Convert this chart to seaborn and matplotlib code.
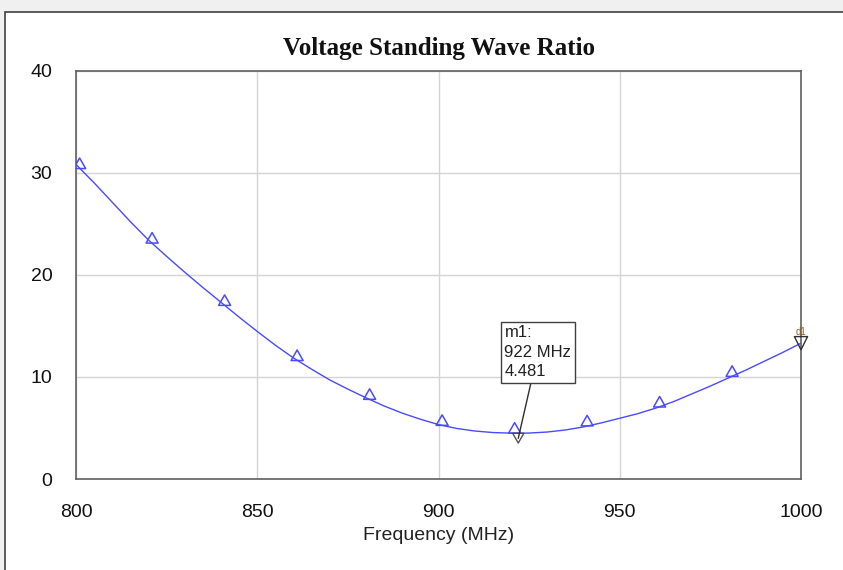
import matplotlib
matplotlib.use("Agg")
import matplotlib.pyplot as plt
import seaborn as sns
import pandas as pd
from matplotlib.patches import Rectangle
from matplotlib.path import Path

# Curve data
freq_mhz = [800, 805, 810, 815, 820, 825, 830, 835, 840, 845, 850, 855, 860, 865,
            870, 875, 880, 885, 890, 895, 900, 905, 910, 915, 920, 922, 925, 930,
            935, 940, 945, 950, 955, 960, 965, 970, 975, 980, 985, 990, 995, 1000]
vswr = [30.8, 29.0, 27.1, 25.2, 23.4, 21.8, 20.25, 18.75, 17.3, 15.85, 14.45, 13.1, 11.85, 10.75,
        9.7, 8.8, 7.95, 7.15, 6.45, 5.85, 5.33, 4.95, 4.7, 4.55, 4.49, 4.481, 4.5, 4.6,
        4.8, 5.1, 5.5, 5.95, 6.4, 6.95, 7.6, 8.35, 9.1, 9.9, 10.7, 11.55, 12.4, 13.3]

# Triangle markers on the trace
marker_freq = [801, 821, 841, 861, 881, 901, 921, 941, 961, 981]
marker_vswr = [30.4, 23.1, 17.0, 11.6, 7.8, 5.25, 4.49, 5.2, 7.05, 10.05]

# Marker m1 and d1
m1_freq, m1_vswr = 922, 4.481
d1_freq, d1_vswr = 1000, 13.3

x_ticks = [800, 850, 900, 950, 1000]
y_ticks = [0, 10, 20, 30, 40]

sns.set_theme(style="white")
plt.rcParams["font.family"] = ["Liberation Sans", "DejaVu Sans"]

# marker shapes: up-triangle sitting on the point, down-triangle hanging from it
tri_up = Path([(-1, 0), (1, 0), (0, 1.75), (-1, 0)],
              [Path.MOVETO, Path.LINETO, Path.LINETO, Path.CLOSEPOLY])
tri_down = Path([(-1, 0), (1, 0), (0, -1.75), (-1, 0)],
                [Path.MOVETO, Path.LINETO, Path.LINETO, Path.CLOSEPOLY])

fig = plt.figure(figsize=(8.43, 5.70), dpi=100)
fig.patch.set_facecolor("#f0f0f0")
panel = Rectangle((5 / 843, -0.01), 1.0, 1 - 12 / 570 + 0.01,
                  transform=fig.transFigure, facecolor="white",
                  edgecolor="#404040", linewidth=1.2, zorder=-5)
fig.add_artist(panel)

ax = fig.add_axes([76 / 843, 1 - 479 / 570, 725 / 843, 408.5 / 570])
ax.set_zorder(1)
ax.set_facecolor("white")

line_color = "#4a4aff"
df = pd.DataFrame({"Frequency (MHz)": freq_mhz, "VSWR": vswr})
sns.lineplot(data=df, x="Frequency (MHz)", y="VSWR", ax=ax, color=line_color,
             linewidth=1.0, zorder=3)

dm = pd.DataFrame({"f": marker_freq, "v": marker_vswr})
sns.scatterplot(data=dm, x="f", y="v", ax=ax, marker=tri_up, s=230,
                facecolor="none", edgecolor=line_color, linewidth=1.1, zorder=4)

ax.scatter([m1_freq], [m1_vswr], marker=tri_down, s=200, facecolor="none",
           edgecolor="#505050", linewidth=1.0, zorder=5, clip_on=False)
ax.scatter([d1_freq], [d1_vswr], marker="v", s=90, facecolor="none",
           edgecolor="#303030", linewidth=1.0, zorder=5, clip_on=False)
ax.text(d1_freq, d1_vswr + 0.65, "d1", fontsize=7, color="#8a5a20",
        ha="center", va="bottom", zorder=6, clip_on=False)

ax.annotate("m1:\n922 MHz\n4.481", xy=(m1_freq, m1_vswr - 0.5),
            xytext=(918.2, 9.75), fontsize=12, color="#202020",
            ha="left", va="bottom", linespacing=1.38,
            bbox=dict(boxstyle="square,pad=0.22", facecolor="white", edgecolor="#404040",
                      linewidth=1.0),
            arrowprops=dict(arrowstyle="-", color="#303030", linewidth=1.0,
                            shrinkA=0, shrinkB=0),
            zorder=7)

ax.set_xlim(800, 1000)
ax.set_ylim(0, 40)
ax.set_xticks(x_ticks)
ax.set_yticks(y_ticks)
ax.set_xticklabels([str(t) for t in x_ticks])
ax.set_yticklabels([str(t) for t in y_ticks])
ax.grid(True, color="#d4d4d4", linewidth=1.0)
ax.tick_params(axis="x", length=0, pad=18, labelsize=14, colors="#111111")
ax.tick_params(axis="y", length=0, pad=17, labelsize=14, colors="#111111")
for s in ax.spines.values():
    s.set_color("#606060")
    s.set_linewidth(1.2)
    s.set_visible(True)

ax.set_xlabel("Frequency (MHz)", fontsize=14, color="#222222", labelpad=4)
ax.set_ylabel("")
fig.text(439 / 843, 1 - 49 / 570, "Voltage Standing Wave Ratio", ha="center",
         va="center", fontsize=18, fontweight="bold", family="Liberation Serif",
         color="#111111")

fig.savefig("out.png", dpi=100, facecolor=fig.get_facecolor())
